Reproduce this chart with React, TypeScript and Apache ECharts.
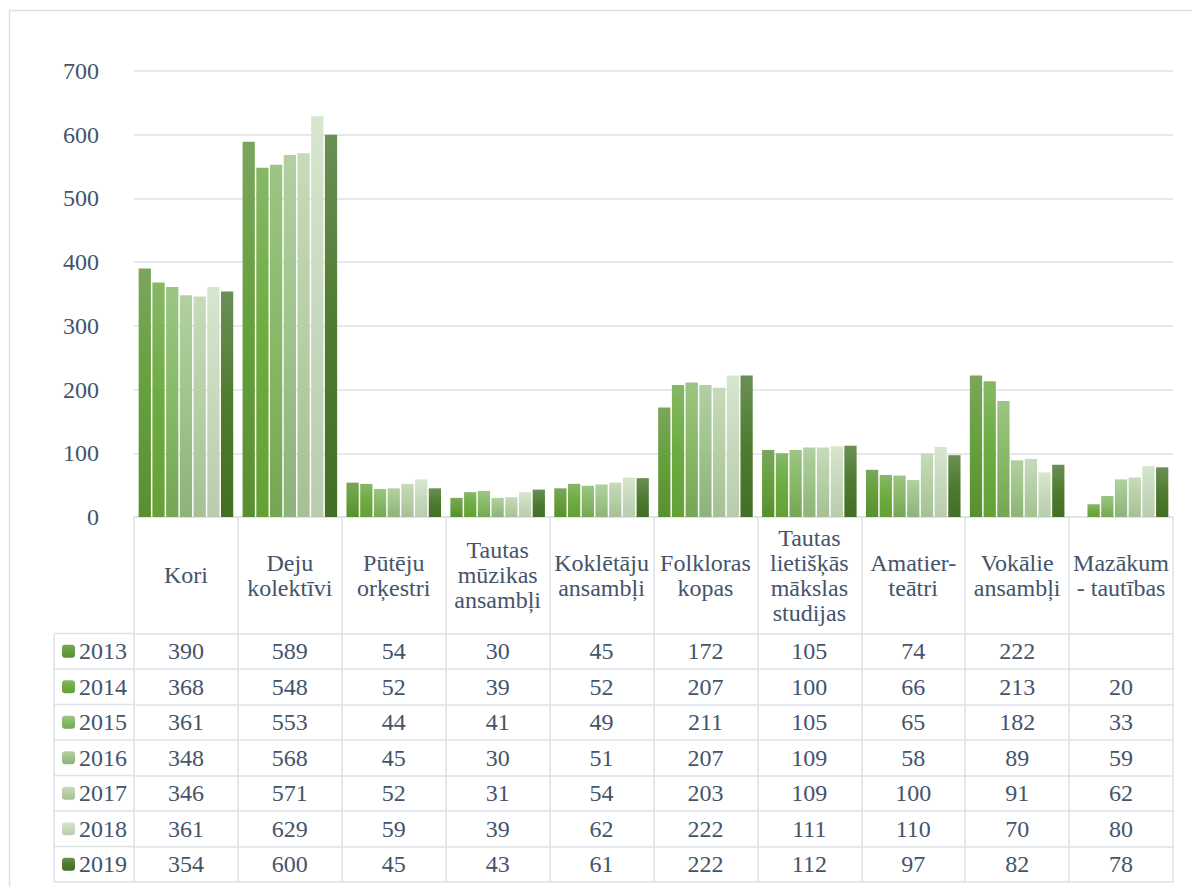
import React, { useEffect, useRef } from "react";
import * as echarts from "echarts";

const categories = [
  "Kori",
  "Deju\nkolektīvi",
  "Pūtēju\norķestri",
  "Tautas\nmūzikas\nansambļi",
  "Koklētāju\nansambļi",
  "Folkloras\nkopas",
  "Tautas\nlietišķās\nmākslas\nstudijas",
  "Amatier-\nteātri",
  "Vokālie\nansambļi",
  "Mazākum\n- tautības",
];

const years = ["2013", "2014", "2015", "2016", "2017", "2018", "2019"];

const v2013 = [390, 589, 54, 30, 45, 172, 105, 74, 222, null];
const v2014 = [368, 548, 52, 39, 52, 207, 100, 66, 213, 20];
const v2015 = [361, 553, 44, 41, 49, 211, 105, 65, 182, 33];
const v2016 = [348, 568, 45, 30, 51, 207, 109, 58, 89, 59];
const v2017 = [346, 571, 52, 31, 54, 203, 109, 100, 91, 62];
const v2018 = [361, 629, 59, 39, 62, 222, 111, 110, 70, 80];
const v2019 = [354, 600, 45, 43, 61, 222, 112, 97, 82, 78];

const seriesValues = [v2013, v2014, v2015, v2016, v2017, v2018, v2019];

const yTicks = { min: 0, max: 700, interval: 100 };

const gradients = [
  ["#7ba55c", "#65a03c", "#5a8e30"],
  ["#86b866", "#6dac40", "#64a036"],
  ["#9cc583", "#87b967", "#76a655"],
  ["#b2d0a2", "#9fc38a", "#8db27a"],
  ["#c6dbba", "#b5cfa6", "#a5c193"],
  ["#d7e6cf", "#c7d9bc", "#b9ccae"],
  ["#6a8f55", "#4f7b30", "#436f24"],
];

const TEXT = "#44546A";
const LINE = "#dde2e8";
const FONT = "Liberation Serif";

export default function App() {
  const ref = useRef<HTMLDivElement>(null);

  useEffect(() => {
    if (!ref.current) return;
    const chart = echarts.init(ref.current, undefined, { renderer: "svg" });

    const gridBottomY = 517;
    const headerH = 116.5;
    const rowH = 35.5;
    const tableH = headerH + rowH * years.length;

    const rowAxes = years.map((y, i) => ({
      type: "category",
      gridIndex: 0,
      position: "bottom",
      offset: headerH + rowH * i,
      data: seriesValues[i].map((v) => (v == null ? "" : String(v))),
      axisLine: { show: true, lineStyle: { color: LINE, width: 1.5 } },
      axisTick: { show: false },
      splitLine: { show: false },
      axisLabel: {
        interval: 0,
        margin: rowH / 2,
        verticalAlign: "middle",
        fontSize: 24,
        lineHeight: 24,
        color: TEXT,
        fontFamily: FONT,
      },
      silent: true,
    }));

    const bottomAxis = {
      type: "category",
      gridIndex: 0,
      position: "bottom",
      offset: tableH,
      data: categories,
      axisLine: { show: true, lineStyle: { color: LINE, width: 1.5 } },
      axisTick: { show: false },
      axisLabel: { show: false },
      splitLine: { show: false },
      silent: true,
    };

    const legendLines: any[] = [];
    for (let i = 0; i <= years.length; i++) {
      const y = gridBottomY + headerH + rowH * i;
      legendLines.push({
        type: "line",
        shape: { x1: 54, y1: y, x2: 134, y2: y },
        style: { stroke: LINE, lineWidth: 1.5 },
        silent: true,
      });
    }
    legendLines.push({
      type: "line",
      shape: { x1: 54, y1: gridBottomY + headerH, x2: 54, y2: gridBottomY + tableH },
      style: { stroke: LINE, lineWidth: 1.5 },
      silent: true,
    });

    chart.setOption({
      animation: false,
      backgroundColor: "#ffffff",
      textStyle: { fontFamily: FONT },
      grid: { left: 134, right: 19, top: 71, bottom: 887 - gridBottomY, containLabel: false },
      legend: {
        orient: "vertical",
        left: 62,
        top: gridBottomY + headerH + rowH / 2 - 12,
        padding: 0,
        itemWidth: 13,
        itemHeight: 13,
        itemGap: rowH - 24,
        selectedMode: false,
        textStyle: { fontSize: 24, lineHeight: 24, color: TEXT, fontFamily: FONT, padding: [0, 0, 0, -1] },
        data: years,
      },
      xAxis: [
        {
          type: "category",
          gridIndex: 0,
          position: "bottom",
          data: categories,
          axisLine: { show: true, lineStyle: { color: LINE, width: 1.5 } },
          axisTick: {
            show: true,
            interval: 0,
            length: tableH,
            lineStyle: { color: LINE, width: 1.5 },
          },
          axisLabel: {
            interval: 0,
            margin: headerH / 2,
            verticalAlign: "middle",
            fontSize: 24,
            lineHeight: 25,
            color: TEXT,
            fontFamily: FONT,
          },
          splitLine: { show: false },
        },
        ...rowAxes,
        bottomAxis,
      ],
      yAxis: {
        type: "value",
        min: yTicks.min,
        max: yTicks.max,
        interval: yTicks.interval,
        axisLine: { show: false },
        axisTick: { show: false },
        axisLabel: { fontSize: 24, color: TEXT, fontFamily: FONT, margin: 35 },
        splitLine: { lineStyle: { color: LINE, width: 1.5 } },
      },
      graphic: [
        {
          type: "rect",
          shape: { x: 9.5, y: 10.5, width: 1200, height: 900 },
          style: { fill: "none", stroke: LINE, lineWidth: 1.5 },
          silent: true,
          z: -1,
        },
        ...legendLines,
      ],
      series: years.map((y, i) => ({
        name: y,
        type: "bar",
        xAxisIndex: 0,
        data: seriesValues[i],
        barCategoryGap: "9%",
        barGap: "12%",
        itemStyle: {
          color: new echarts.graphic.LinearGradient(0, 0, 0, 1, [
            { offset: 0, color: gradients[i][0] },
            { offset: 0.5, color: gradients[i][1] },
            { offset: 1, color: gradients[i][2] },
          ]),
        },
      })),
    });

    return () => chart.dispose();
  }, []);

  return (
    <div
      ref={ref}
      style={{ position: "fixed", left: 0, top: 0, width: 1192, height: 887 }}
    />
  );
}
